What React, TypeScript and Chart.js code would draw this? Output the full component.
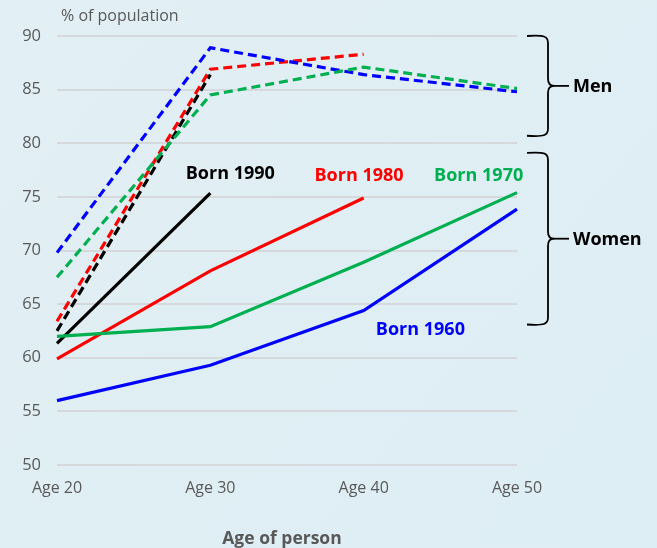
import React, { useEffect, useRef } from "react";
import { Chart, registerables } from "chart.js";

Chart.register(...registerables);

const ages = ["Age 20", "Age 30", "Age 40", "Age 50"];
const yTicks = [50, 55, 60, 65, 70, 75, 80, 85, 90];

const men1960 = [69.8, 88.9, 86.4, 84.8];
const men1970 = [67.5, 84.5, 87.1, 85.1];
const men1980 = [63.4, 86.9, 88.3, null];
const men1990 = [62.5, 86.4, null, null];

const women1960 = [56.0, 59.3, 64.4, 73.85];
const women1970 = [62.0, 62.9, 68.9, 75.4];
const women1980 = [59.9, 68.1, 74.9, null];
const women1990 = [61.35, 75.35, null, null];

const BLUE = "#0000ff";
const GREEN = "#00b050";
const RED = "#ff0000";
const BLACK = "#000000";

const cohortLabels = [
  { text: "Born 1990", color: BLACK, x: 1.13, y: 77.1 },
  { text: "Born 1980", color: RED, x: 1.97, y: 77.0 },
  { text: "Born 1970", color: GREEN, x: 2.75, y: 77.0 },
  { text: "Born 1960", color: BLUE, x: 2.37, y: 62.6 },
];

const groups = [
  { text: "Men", top: 90, bottom: 80.7 },
  { text: "Women", top: 79.1, bottom: 63.1 },
];

const FONT = "'Open Sans', 'Liberation Sans', sans-serif";

export default function App() {
  const ref = useRef<HTMLCanvasElement>(null);
  useEffect(() => {
    document.body.style.margin = "0";
    const canvas = ref.current!;
    const bgPlugin = {
      id: "bg",
      beforeDraw(chart: any) {
        const { ctx, width, height } = chart;
        const g = ctx.createLinearGradient(0, 0, width, height);
        g.addColorStop(0, "#e2eff4");
        g.addColorStop(1, "#ddeef4");
        ctx.save();
        ctx.fillStyle = g;
        ctx.fillRect(0, 0, width, height);
        ctx.restore();
      },
    };
    const annoPlugin = {
      id: "anno",
      afterDraw(chart: any) {
        const { ctx, chartArea } = chart;
        const xs = chart.scales.x;
        const ys = chart.scales.y;
        ctx.save();
        ctx.fillStyle = "#595959";
        ctx.font = `16px ${FONT}`;
        ctx.textAlign = "left";
        ctx.textBaseline = "middle";
        ctx.fillText("% of population", 61, 16);
        ctx.font = `bold 17.5px ${FONT}`;
        ctx.textAlign = "center";
        ctx.fillText("Age of person", 282, 539);
        ctx.font = `bold 18px ${FONT}`;
        for (const l of cohortLabels) {
          ctx.fillStyle = l.color;
          const x0 = xs.getPixelForValue(0);
          const x1 = xs.getPixelForValue(1);
          const px = x0 + (x1 - x0) * l.x;
          ctx.fillText(l.text, px, ys.getPixelForValue(l.y));
        }
        ctx.strokeStyle = "#000";
        ctx.lineWidth = 1.8;
        ctx.fillStyle = "#000";
        ctx.textAlign = "left";
        const bx = chartArea.right + 10;
        for (const g of groups) {
          const t = ys.getPixelForValue(g.top);
          const b = ys.getPixelForValue(g.bottom);
          const m = (t + b) / 2;
          const vx = bx + 21;
          const r = 7;
          ctx.beginPath();
          ctx.moveTo(bx, t);
          ctx.bezierCurveTo(vx - 4, t - 1, vx, t, vx, t + r);
          ctx.lineTo(vx, m - r);
          ctx.quadraticCurveTo(vx, m, vx + 6, m);
          ctx.quadraticCurveTo(vx, m, vx, m + r);
          ctx.lineTo(vx, b - r);
          ctx.bezierCurveTo(vx, b, vx - 4, b + 1, bx, b);
          ctx.stroke();
          ctx.beginPath();
          ctx.moveTo(vx + 5, m);
          ctx.lineTo(vx + 21, m);
          ctx.stroke();
          ctx.font = `bold 18px ${FONT}`;
          ctx.fillText(g.text, vx + 25, m + 1);
        }
        ctx.restore();
      },
    };
    const dash = [9, 5];
    const mk = (data: any[], color: string, dashed: boolean) => ({
      data,
      borderColor: color,
      backgroundColor: color,
      borderWidth: 3.2,
      borderDash: dashed ? dash : [],
      pointRadius: 0,
      tension: 0,
      spanGaps: false,
    });
    const chart = new Chart(canvas, {
      type: "line",
      data: {
        labels: ages,
        datasets: [
          mk(women1960, BLUE, false),
          mk(women1970, GREEN, false),
          mk(women1980, RED, false),
          mk(women1990, BLACK, false),
          mk(men1970, GREEN, true),
          mk(men1960, BLUE, true),
          mk(men1980, RED, true),
          mk(men1990, BLACK, true),
        ],
      },
      options: {
        animation: false,
        responsive: false,
        layout: { padding: { top: 36, right: 140, bottom: 0, left: 0 } },
        plugins: { legend: { display: false }, tooltip: { enabled: false } },
        scales: {
          x: {
            offset: false,
            grid: { display: false, drawTicks: false },
            border: { display: false },
            ticks: { color: "#595959", font: { family: FONT, size: 16 }, padding: 14 },
            afterFit(s: any) {
              s.height = 83;
            },
          },
          y: {
            min: 50,
            max: 90,
            afterBuildTicks(s: any) {
              s.ticks = yTicks.map((v) => ({ value: v }));
            },
            grid: { color: "#d6d9db", lineWidth: 2, drawTicks: false },
            border: { display: false },
            ticks: { color: "#595959", font: { family: FONT, size: 16.5 }, padding: 16 },
            afterFit(s: any) {
              s.width = 57;
            },
          },
        },
      },
      plugins: [bgPlugin, annoPlugin],
    });
    return () => chart.destroy();
  }, []);
  return <canvas ref={ref} width={657} height={548} style={{ display: "block" }} />;
}
